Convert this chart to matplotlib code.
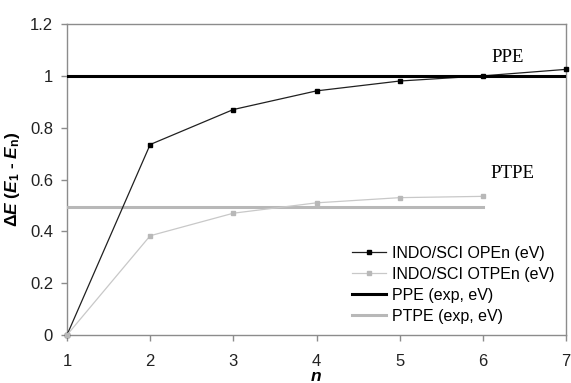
import numpy as np
import matplotlib
matplotlib.use('Agg')
import matplotlib.pyplot as plt
from matplotlib.ticker import FuncFormatter

# data
n_ope = [1, 2, 3, 4, 5, 6, 7]
de_ope = [0.0, 0.735, 0.87, 0.942, 0.98, 1.0, 1.025]
n_otpe = [1, 2, 3, 4, 5, 6]
de_otpe = [0.0, 0.383, 0.47, 0.51, 0.53, 0.535]
ppe_n = [1, 7]
ppe_exp = [1.0, 1.0]
ptpe_n = [1, 6]
ptpe_exp = [0.495, 0.495]

plt.rcParams['font.family'] = ['Liberation Sans', 'DejaVu Sans']
plt.rcParams['mathtext.fontset'] = 'custom'
plt.rcParams['mathtext.rm'] = 'Liberation Sans:bold'
plt.rcParams['mathtext.it'] = 'Liberation Sans:bold:italic'
plt.rcParams['mathtext.bf'] = 'Liberation Sans:bold'

fig = plt.figure(figsize=(5.71, 3.83), dpi=100)
ax = fig.add_axes([0.1173, 0.1253, 0.874, 0.812])

ax.plot(ppe_n, ppe_exp, color='black', lw=2.2, label='PPE (exp, eV)', zorder=5)
ax.plot(ptpe_n, ptpe_exp, color='#b8b8b8', lw=2.2, label='PTPE (exp, eV)', zorder=3)
ax.plot(n_ope, de_ope, color='#202020', lw=0.9, marker='s', ms=3.5,
        mfc='black', mec='black', label='INDO/SCI OPEn (eV)', zorder=4, clip_on=False)
ax.plot(n_otpe, de_otpe, color='#c8c8c8', lw=0.9, marker='s', ms=3.5,
        mfc='#b8b8b8', mec='#b8b8b8', label='INDO/SCI OTPEn (eV)', zorder=4, clip_on=False)

ax.set_xlim(1, 7)
ax.set_ylim(0, 1.2)
ax.set_xticks(range(1, 8))
ax.set_yticks(np.arange(0, 1.21, 0.2))
ax.yaxis.set_major_formatter(FuncFormatter(lambda v, p: '{:g}'.format(round(v, 1))))

for s in ax.spines.values():
    s.set_color('#8c8c8c')
    s.set_linewidth(1.0)
ax.tick_params(direction='out', length=4, width=1, color='#8c8c8c',
               labelsize=12, labelcolor='#222222')
ax.tick_params(axis='x', pad=10)
ax.tick_params(axis='y', pad=6)

ax.text(6.3, 1.07, 'PPE', family='Liberation Serif', fontsize=13.5, ha='center', va='center')
ax.text(6.35, 0.625, 'PTPE', family='Liberation Serif', fontsize=13.5, ha='center', va='center')

ax.set_xlabel('n', fontsize=12.5, fontweight='bold', style='italic', labelpad=0)
ax.set_ylabel(r'$\Delta\mathit{E}$ ($\mathit{E}_{\mathrm{1}}$ - $\mathit{E}_{\mathrm{n}}$)',
              fontsize=12.5, fontweight='bold', labelpad=6)

h, l = ax.get_legend_handles_labels()
order = [2, 3, 0, 1]
ax.legend([h[i] for i in order], [l[i] for i in order], loc='lower right',
          bbox_to_anchor=(1.0, 0.0), frameon=False, fontsize=11.5,
          handlelength=2.1, handletextpad=0.4, labelspacing=0.38,
          borderaxespad=0.3)

plt.savefig('out.png', dpi=100)
